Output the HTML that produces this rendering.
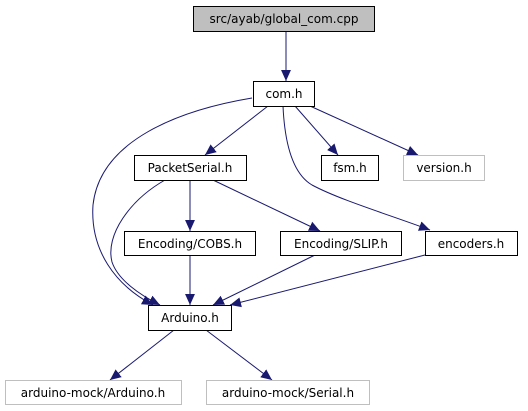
<!DOCTYPE html>
<html><head><meta charset="utf-8"><style>
html,body{margin:0;padding:0;background:#fff;width:528px;height:411px;overflow:hidden}
text{font-family:"DejaVu Sans","Liberation Sans",sans-serif;font-size:12px;fill:#000}
</style></head><body>
<svg width="528" height="411" viewBox="0 0 528 411" xmlns="http://www.w3.org/2000/svg">
<defs>
<marker id="a" viewBox="0 0 10 10" refX="10" refY="5" markerWidth="11" markerHeight="11" markerUnits="userSpaceOnUse" orient="auto">
<path d="M0,0.5 L10,5 L0,9.5 z" fill="#191970"/>
</marker>
</defs>
<g fill="none" stroke="#191970" stroke-width="1" marker-end="url(#a)">
<path d="M286,31 L286,81"/>
<path d="M252,98 C180,110 100,140 93,205 C90,250 115,285 153,305"/>
<path d="M268,106 L205,155"/>
<path d="M295,106 L338,155"/>
<path d="M310,106 L418,155"/>
<path d="M283,106 C285,150 295,175 312,185 C340,200 390,215 430,230"/>
<path d="M165,180 C130,200 105,235 112,262 C118,280 140,295 160,305"/>
<path d="M190,180 L190,231"/>
<path d="M213,180 L320,231"/>
<path d="M190,255 L190,305"/>
<path d="M315,255 L213,305"/>
<path d="M425,255 L230,305"/>
<path d="M174,330 L110,380"/>
<path d="M206,330 L272,380"/>
</g>
<g stroke-width="1">
<rect x="193.5" y="6.5" width="181" height="25" fill="#bfbfbf" stroke="#000"/>
<rect x="253.5" y="81.5" width="61" height="25" fill="#fff" stroke="#000"/>
<rect x="134.5" y="155.5" width="112" height="25" fill="#fff" stroke="#000"/>
<rect x="321.5" y="155.5" width="57" height="25" fill="#fff" stroke="#000"/>
<rect x="403.5" y="155.5" width="81" height="25" fill="#fff" stroke="#bfbfbf"/>
<rect x="124.5" y="231.5" width="131" height="24" fill="#fff" stroke="#000"/>
<rect x="280.5" y="231.5" width="121" height="24" fill="#fff" stroke="#000"/>
<rect x="425.5" y="231.5" width="92" height="24" fill="#fff" stroke="#000"/>
<rect x="148.5" y="305.5" width="83" height="25" fill="#fff" stroke="#000"/>
<rect x="5.5" y="380.5" width="176" height="24" fill="#fff" stroke="#bfbfbf"/>
<rect x="206.5" y="380.5" width="163" height="24" fill="#fff" stroke="#bfbfbf"/>
</g>
<g text-anchor="middle">
<text x="284" y="23">src/ayab/global_com.cpp</text>
<text x="284" y="98">com.h</text>
<text x="190" y="172">PacketSerial.h</text>
<text x="350" y="172">fsm.h</text>
<text x="444" y="172">version.h</text>
<text x="190" y="248">Encoding/COBS.h</text>
<text x="341" y="248">Encoding/SLIP.h</text>
<text x="471" y="248">encoders.h</text>
<text x="190" y="322">Arduino.h</text>
<text x="93" y="397">arduino-mock/Arduino.h</text>
<text x="288" y="397">arduino-mock/Serial.h</text>
</g>
</svg>
</body></html>
